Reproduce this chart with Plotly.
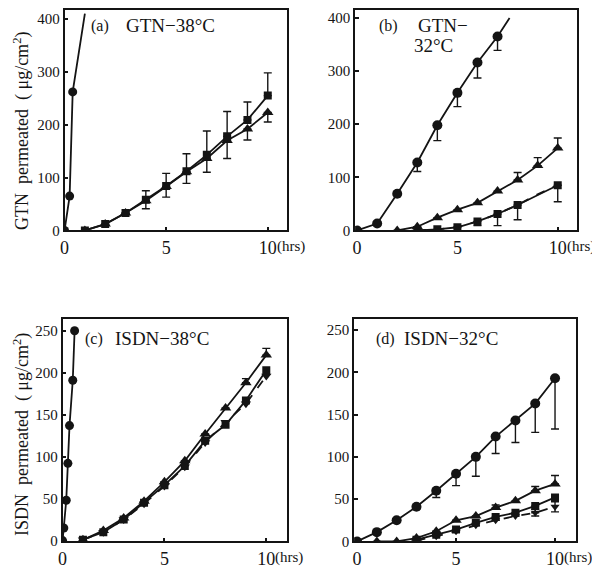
import plotly.graph_objects as go

# ---------------- data ----------------
# (a) GTN 38C
a_circ_x = [0, 0.25, 0.4, 1.0]
a_circ_y = [0, 65, 262, 410]
a_tri_x = [1, 2, 3, 4, 5, 6, 7, 8, 9, 10]
a_tri_y = [0, 12, 33, 56, 83, 111, 136, 170, 192, 223]
a_tri_em = [0, 0, 0, 0, 0, 0, 0, 34, 21, 18]
a_sq_x = [1, 2, 3, 4, 5, 6, 7, 8, 9, 10]
a_sq_y = [0, 12, 33, 58, 84, 112, 143, 178, 209, 255]
a_sq_ep = [0, 0, 0, 17, 24, 33, 45, 47, 34, 43]
a_sq_em = [0, 0, 0, 17, 21, 23, 33, 0, 0, 0]

# (b) GTN 32C
b_circ_x = [0, 1, 2, 3, 4, 5, 6, 7, 7.6]
b_circ_y = [0, 13, 69, 128, 198, 259, 316, 365, 400]
b_circ_em = [0, 0, 0, 17, 29, 26, 29, 26, 0]
b_tri_x = [2, 3, 4, 5, 6, 7, 8, 9, 10]
b_tri_y = [0, 7, 24, 39, 52, 74, 95, 122, 155]
b_tri_ep = [0, 0, 0, 0, 0, 0, 14, 15, 19]
b_sq_x = [3, 4, 5, 6, 7, 8, 10]
b_sq_y = [0, 2, 6, 17, 31, 48, 85]
b_sq_em = [0, 0, 0, 8, 22, 28, 31]
b_dash_x = [3, 4, 5, 6, 7, 8, 9, 10]
b_dash_y = [0, 2, 6, 17, 31, 48, 68, 86]

# (c) ISDN 38C
c_circ_x = [0, 0.06, 0.18, 0.26, 0.34, 0.5, 0.59]
c_circ_y = [0, 15, 48, 92, 137, 191, 250]
c_tri_x = [1, 2, 3, 4, 5, 6, 7, 8, 9, 10]
c_tri_y = [1, 12, 27, 47, 70, 95, 127, 158, 188, 221]
c_tri_ep = [0, 0, 0, 0, 0, 0, 0, 0, 5, 8]
c_sq_x = [1, 2, 3, 4, 5, 6, 7, 8, 9, 10]
c_sq_y = [1, 10, 25, 45, 66, 89, 119, 138, 167, 203]
c_dash_x = [1, 2, 3, 4, 5, 6, 7, 8, 9, 10]
c_dash_y = [1, 10, 25, 44, 65, 88, 117, 141, 163, 196]

# (d) ISDN 32C
d_circ_x = [0, 1, 2, 3, 4, 5, 6, 7, 8, 9, 10]
d_circ_y = [0, 11, 25, 41, 60, 80, 100, 124, 143, 163, 193]
d_circ_em = [0, 0, 0, 0, 8, 14, 23, 20, 26, 34, 60]
d_tri_x = [1, 2, 3, 4, 5, 6, 7, 8, 9, 10]
d_tri_y = [0, 0, 4, 12, 25, 30, 40, 48, 60, 68]
d_tri_ep = [0, 0, 0, 0, 0, 0, 3, 0, 5, 10]
d_sq_x = [3, 4, 5, 6, 7, 8, 9, 10]
d_sq_y = [2, 8, 14, 22, 29, 34, 42, 52]
d_sq_em = [0, 0, 0, 0, 0, 0, 8, 0]
d_dash_x = [3, 4, 5, 6, 7, 8, 9, 10]
d_dash_y = [1, 6, 12, 19, 25, 30, 34, 41]
d_dash_e = [0, 0, 0, 0, 0, 0, 4, 6]

INK = "#141414"
FONT = "Liberation Serif"

# page has an 8px body margin: figure is drawn at (8,8)
OFF = 8
W, H = 600 - OFF, 576 - OFF


def fx(px):
    return min(1.0, max(0.0, (px - OFF) / W))


def fy(py):
    return min(1.0, max(0.0, 1 - (py - OFF) / H))


fig = go.Figure()


def add(x, y, sym, xa, ya, size=9, dash="solid", ep=None, em=None, nmark=None):
    """Line through all points; markers (and error bars) on the first nmark points."""
    n = len(x) if nmark is None else nmark
    fig.add_trace(go.Scatter(
        x=x, y=y, mode="lines", xaxis=xa, yaxis=ya,
        line=dict(color=INK, width=1.8, dash=dash), showlegend=False))
    err = None
    if ep is not None or em is not None:
        err = dict(type="data", symmetric=False,
                   array=(ep if ep is not None else [0] * len(x))[:n],
                   arrayminus=(em if em is not None else [0] * len(x))[:n],
                   color=INK, thickness=1.4, width=4)
    if size > 0 or err is not None:
        fig.add_trace(go.Scatter(
            x=x[:n], y=y[:n], mode="markers", xaxis=xa, yaxis=ya,
            marker=dict(symbol=sym, size=size, color=INK, line=dict(width=0)),
            error_y=err, showlegend=False))


# (a)
add(a_circ_x, a_circ_y, "circle", "x", "y", size=9, nmark=3)
add(a_tri_x, a_tri_y, "triangle-up", "x", "y", size=10, em=a_tri_em)
add(a_sq_x, a_sq_y, "square", "x", "y", size=8, ep=a_sq_ep, em=a_sq_em)
# (b)
add(b_circ_x, b_circ_y, "circle", "x2", "y2", size=10, em=b_circ_em, nmark=8)
add(b_tri_x, b_tri_y, "triangle-up", "x2", "y2", size=10, ep=b_tri_ep)
add(b_sq_x, b_sq_y, "square", "x2", "y2", size=8, em=b_sq_em)
add(b_dash_x, b_dash_y, "triangle-down", "x2", "y2", size=0, dash="dash")
# (c)
add(c_circ_x, c_circ_y, "circle", "x3", "y3", size=9)
add(c_tri_x, c_tri_y, "triangle-up", "x3", "y3", size=10, ep=c_tri_ep)
add(c_sq_x, c_sq_y, "square", "x3", "y3", size=8)
add(c_dash_x, c_dash_y, "triangle-down", "x3", "y3", size=9, dash="dash")
# (d)
add(d_circ_x, d_circ_y, "circle", "x4", "y4", size=10, em=d_circ_em)
add(d_tri_x, d_tri_y, "triangle-up", "x4", "y4", size=10, ep=d_tri_ep)
add(d_sq_x, d_sq_y, "square", "x4", "y4", size=8, em=d_sq_em)
add(d_dash_x, d_dash_y, "triangle-down", "x4", "y4", size=8, dash="dash",
    ep=d_dash_e, em=d_dash_e)

xt = dict(tickvals=[0, 5, 10], ticktext=["0", "5", "10"])
common = dict(showline=True, mirror=True, linecolor=INK, linewidth=1.8,
              ticks="inside", ticklen=4, tickwidth=1.5, tickcolor=INK,
              showgrid=False, zeroline=False, fixedrange=True)
xfont = dict(family=FONT, size=18, color=INK)
yfont = dict(family=FONT, size=15, color=INK)

yab = [fy(233), fy(9)]
ycd = [fy(549), fy(323)]
dom_a = [fx(60), fx(284)]
dom_b = [fx(353), fx(577)]
dom_c = [fx(58), fx(284)]
dom_d = [fx(352), fx(576)]

fig.update_layout(
    width=W, height=H, margin=dict(l=0, r=0, t=0, b=0),
    paper_bgcolor="white", plot_bgcolor="white",
    xaxis=dict(domain=dom_a, range=[0, 10.93], anchor="y", tickfont=xfont, **xt, **common),
    yaxis=dict(domain=yab, range=[0, 417], anchor="x", tickvals=[0, 100, 200, 300, 400],
               tickfont=yfont, **common),
    xaxis2=dict(domain=dom_b, range=[-0.1, 10.97], anchor="y2", tickfont=xfont, **xt, **common),
    yaxis2=dict(domain=yab, range=[0, 415], anchor="x2", tickvals=[0, 100, 200, 300, 400],
                tickfont=yfont, **common),
    xaxis3=dict(domain=dom_c, range=[0, 11.0], anchor="y3", tickfont=xfont, **xt, **common),
    yaxis3=dict(domain=ycd, range=[-1, 264], anchor="x3", tickvals=[0, 50, 100, 150, 200, 250],
                tickfont=yfont, **common),
    xaxis4=dict(domain=dom_d, range=[-0.15, 11.07], anchor="y4", tickfont=xfont, **xt, **common),
    yaxis4=dict(domain=ycd, range=[0, 263], anchor="x4", tickvals=[0, 50, 100, 150, 200, 250],
                tickfont=yfont, **common),
)

ann = []
# (hrs) labels
for xr, ybot in [("x", yab[0]), ("x2", yab[0]), ("x3", ycd[0]), ("x4", ycd[0])]:
    ann.append(dict(text="(hrs)", x=10, xref=xr, y=ybot, yref="paper", xanchor="left",
                    yanchor="top", xshift=7, yshift=-6, showarrow=False,
                    font=dict(family=FONT, size=15, color=INK)))
# panel titles
big = dict(family=FONT, size=19, color=INK)
small = dict(family=FONT, size=16, color=INK)


def txt(t, x, y, f, anchor="left"):
    ann.append(dict(text=t, x=fx(x), y=fy(y), xref="paper", yref="paper",
                    xanchor=anchor, yanchor="middle", showarrow=False, font=f))


txt("(a)", 85, 25, small)
txt("GTN−38°C", 120, 25, big)
txt("(b)", 375, 25, small)
txt("GTN−", 414, 25, big)
txt("32°C", 410, 45, big)
txt("(c)", 79, 343, small)
txt("ISDN−38°C", 109, 343, big)
txt("(d)", 372, 343, small)
txt("ISDN−32°C", 400, 343, big)

# y titles
for t, yc in [("GTN  permeated  ( μg/cm<sup>2</sup>)", 132),
              ("ISDN  permeated  ( μg/cm<sup>2</sup>)", 440)]:
    ann.append(dict(text=t, x=fx(17), y=fy(yc), xref="paper", yref="paper",
                    xanchor="center", yanchor="middle", textangle=-90, showarrow=False,
                    font=dict(family=FONT, size=18, color=INK)))

fig.update_layout(annotations=ann)
fig.write_html("out.html")
